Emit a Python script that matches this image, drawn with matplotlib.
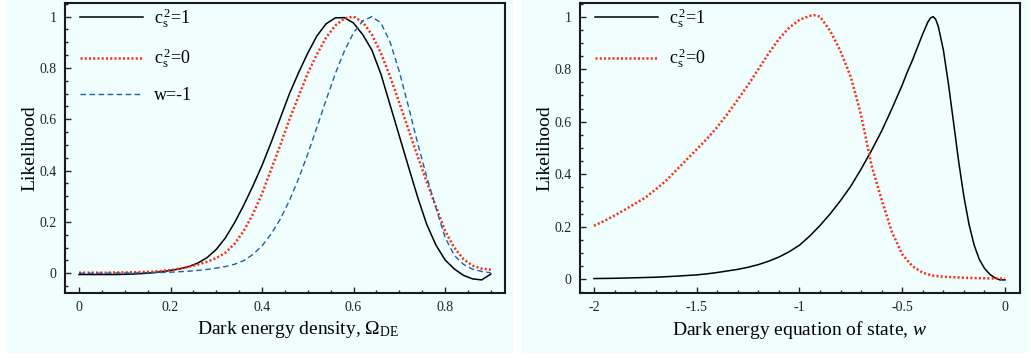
import matplotlib
matplotlib.use("Agg")
import matplotlib.pyplot as plt
from matplotlib.patches import Rectangle
from matplotlib.ticker import MultipleLocator

# ---------------- data ----------------
omega = [0.00, 0.02, 0.04, 0.06, 0.08, 0.10, 0.12, 0.14, 0.16, 0.18, 0.20, 0.22,
         0.24, 0.26, 0.28, 0.30, 0.32, 0.34, 0.36, 0.38, 0.40, 0.42, 0.44, 0.46,
         0.48, 0.50, 0.52, 0.54, 0.56, 0.58, 0.60, 0.62, 0.64, 0.66, 0.68, 0.70,
         0.72, 0.74, 0.76, 0.78, 0.80, 0.82, 0.84, 0.86, 0.88, 0.90]
omega_cs1 = [-0.005, -0.005, -0.005, -0.005, -0.005, -0.004, -0.003, -0.001, 0.002, 0.006, 0.011, 0.017,
             0.026, 0.04, 0.061, 0.093, 0.138, 0.197, 0.265, 0.34, 0.42, 0.51, 0.605, 0.70,
             0.782, 0.858, 0.925, 0.972, 0.995, 0.996, 0.975, 0.93, 0.87, 0.775, 0.655, 0.535,
             0.415, 0.297, 0.19, 0.11, 0.052, 0.017, -0.008, -0.022, -0.026, -0.003]
omega_cs0 = [0.002, 0.002, 0.002, 0.002, 0.003, 0.003, 0.004, 0.005, 0.006, 0.009, 0.012, 0.018,
             0.025, 0.034, 0.045, 0.059, 0.08, 0.115, 0.165, 0.23, 0.31, 0.405, 0.50, 0.60,
             0.69, 0.78, 0.853, 0.918, 0.965, 0.993, 1.0, 0.979, 0.93, 0.857, 0.766, 0.664,
             0.56, 0.456, 0.355, 0.26, 0.165, 0.10, 0.055, 0.03, 0.018, 0.014]
omega_lcdm = [0.0, 0.0, 0.0, 0.0, 0.001, 0.001, 0.001, 0.002, 0.002, 0.003, 0.004, 0.006,
              0.008, 0.011, 0.015, 0.02, 0.026, 0.035, 0.049, 0.073, 0.107, 0.153, 0.211, 0.284,
              0.369, 0.465, 0.569, 0.675, 0.777, 0.866, 0.937, 0.983, 1.0, 0.975, 0.90, 0.786,
              0.65, 0.507, 0.375, 0.255, 0.14, 0.07, 0.035, 0.016, 0.007, 0.002]

w_red = [-2.0, -1.95, -1.9, -1.85, -1.8, -1.75, -1.7, -1.65, -1.6, -1.55, -1.5, -1.45,
         -1.4, -1.35, -1.3, -1.25, -1.2, -1.15, -1.1, -1.05, -1.0, -0.95, -0.93, -0.9,
         -0.85, -0.8, -0.75, -0.7, -0.65, -0.6, -0.55, -0.5, -0.45, -0.4, -0.35, -0.3,
         -0.25, -0.2, -0.15, -0.1, -0.05, 0.0]
w_cs0 = [0.204, 0.222, 0.243, 0.265, 0.288, 0.311, 0.342, 0.375, 0.415, 0.455, 0.495, 0.535,
         0.58, 0.63, 0.685, 0.74, 0.80, 0.86, 0.915, 0.958, 0.988, 1.003, 1.006, 1.0,
         0.945, 0.868, 0.77, 0.625, 0.435, 0.302, 0.18, 0.095, 0.05, 0.025, 0.014, 0.01,
         0.008, 0.006, 0.005, 0.004, 0.003, 0.003]

w_black = [-2.0, -1.9, -1.8, -1.7, -1.6, -1.5, -1.45, -1.4, -1.35, -1.3, -1.25, -1.2,
           -1.15, -1.1, -1.05, -1.0, -0.95, -0.9, -0.85, -0.8, -0.75, -0.7, -0.65, -0.6,
           -0.55, -0.5, -0.475, -0.45, -0.425, -0.4, -0.375, -0.3625, -0.35, -0.3375,
           -0.325, -0.3, -0.275, -0.25, -0.225, -0.2, -0.175, -0.15, -0.125, -0.1,
           -0.075, -0.05, -0.025, 0.0]
w_cs1 = [0.003, 0.004, 0.006, 0.008, 0.012, 0.017, 0.021, 0.026, 0.032, 0.038, 0.046, 0.056,
         0.069, 0.085, 0.105, 0.13, 0.165, 0.205, 0.25, 0.30, 0.355, 0.42, 0.49, 0.565,
         0.65, 0.74, 0.79, 0.835, 0.885, 0.935, 0.98, 0.995, 1.0, 0.99,
         0.964, 0.874, 0.743, 0.595, 0.446, 0.315, 0.209, 0.13, 0.076, 0.042,
         0.02, 0.006, -0.002, -0.002]

labels = [r'c$_\mathrm{s}^{\,2}$=1', r'c$_\mathrm{s}^{\,2}$=0', 'w=-1']
left_xticks = [0, 0.2, 0.4, 0.6, 0.8]
left_xticklabels = ['0', '0.2', '0.4', '0.6', '0.8']
yticks = [0, 0.2, 0.4, 0.6, 0.8, 1]
yticklabels = ['0', '0.2', '0.4', '0.6', '0.8', '1']
right_xticks = [-2, -1.5, -1, -0.5, 0]
right_xticklabels = ['-2', '-1.5', '-1', '-0.5', '0']

# ---------------- style ----------------
plt.rcParams['font.family'] = ['Liberation Serif', 'DejaVu Serif']
plt.rcParams['mathtext.fontset'] = 'custom'
plt.rcParams['mathtext.rm'] = 'Liberation Serif'
plt.rcParams['mathtext.it'] = 'Liberation Serif:italic'

BG = '#f0fefe'
W, H = 1031, 358
fig = plt.figure(figsize=(W / 100, H / 100), dpi=100)
fig.patch.set_facecolor('white')

# panel backgrounds
for x0, x1 in [(6, 513), (521, 1029)]:
    fig.add_artist(Rectangle((x0 / W, (H - 353) / H), (x1 - x0) / W, 353 / H,
                             transform=fig.transFigure, facecolor=BG,
                             edgecolor='none', zorder=-10))

axL = fig.add_axes([65 / W, (H - 293) / H, 440 / W, 290 / H])
axR = fig.add_axes([580 / W, (H - 293) / H, 440 / W, 290 / H])
axL.set_zorder(2)
axR.set_zorder(2)

black = '#000000'
red = '#ff2a10'
blue = '#1a5fa8'

axL.plot(omega, omega_cs1, color=black, lw=1.1, label=labels[0])
axL.plot(omega, omega_cs0, color=red, lw=1.8, ls=(0, (0.8, 0.9)), label=labels[1])
axL.plot(omega, omega_lcdm, color=blue, lw=1.0, ls=(0, (4, 2.5)), label=labels[2])

axR.plot(w_black, w_cs1, color=black, lw=1.1, label=labels[0])
axR.plot(w_red, w_cs0, color=red, lw=1.8, ls=(0, (0.8, 0.9)), label=labels[1])

axL.set_xlim(-0.0306, 0.931)
axL.set_ylim(-0.077, 1.053)
axR.set_xlim(-2.068, 0.073)
axR.set_ylim(-0.052, 1.052)

axL.set_xticks(left_xticks)
axL.set_xticklabels(left_xticklabels)
axL.xaxis.set_minor_locator(MultipleLocator(0.05))
axR.set_xticks(right_xticks)
axR.set_xticklabels(right_xticklabels)
axR.xaxis.set_minor_locator(MultipleLocator(0.1))
for ax in (axL, axR):
    ax.set_facecolor(BG)
    ax.set_yticks(yticks)
    ax.set_yticklabels(yticklabels)
    ax.yaxis.set_minor_locator(MultipleLocator(0.05))
    ax.tick_params(which='both', direction='in', top=False, right=False,
                   labelsize=10, colors='#222222', width=1.0)
    ax.tick_params(which='major', length=4.5, pad=6)
    ax.tick_params(which='minor', length=2.5)
    for s in ax.spines.values():
        s.set_linewidth(1.5)
        s.set_color('#1a1a1a')
    ax.set_ylabel('Likelihood', fontsize=14)
    ax.yaxis.set_label_coords(-0.06, 0.5)
    ax.legend(loc='upper left', bbox_to_anchor=(0.034, 0.99), frameon=False,
              fontsize=13, handlelength=3.5, handletextpad=0.6, labelspacing=0.93,
              borderaxespad=0.0, borderpad=0.0)

axL.set_xlabel(r'Dark energy density, $\Omega_\mathrm{DE}$', fontsize=14)
axL.xaxis.set_label_coords(0.53, -0.09)
axR.set_xlabel(r'Dark energy equation of state, $\mathit{w}$', fontsize=14)
axR.xaxis.set_label_coords(0.5, -0.09)

fig.savefig('out.png', dpi=100, facecolor='white')
